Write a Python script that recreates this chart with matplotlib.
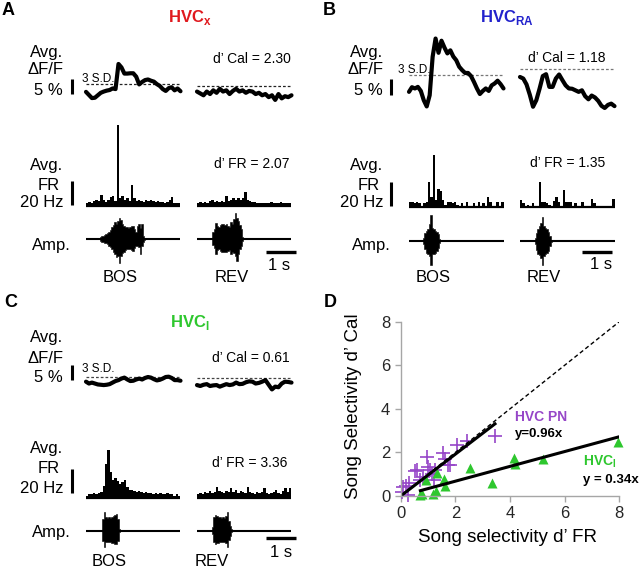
import numpy as np
import matplotlib.pyplot as plt

plt.rcParams['font.family'] = 'Liberation Sans'
plt.rcParams['mathtext.fontset'] = 'custom'
plt.rcParams['mathtext.rm'] = 'Liberation Sans'
plt.rcParams['mathtext.bf'] = 'Liberation Sans:bold'

# ---- calcium traces (avg dF/F, % relative to the BOS 3 S.D. line) ----
a_cal_bos = [-2.7, -3.7, -4.7, -4.6, -3.8, -3.0, -2.6, -2.3, -2.1, -1.6, -1.8, 6.3, 5.2, 3.2, 3.2, 3.3, 3.3,
             2.2, -0.3, 0.5, 1.1, 1.3, 0.9, 0.6, -0.2, -0.8, -1.8, -2.4, -1.5, -1.2, -2.2, -1.6, -2.5]
a_cal_rev = [-2.6, -3.2, -3.8, -2.6, -3.4, -2.2, -3.0, -1.7, -2.6, -2.2, -3.4, -2.4, -1.7, -2.6, -2.2,
             -3.0, -2.4, -2.6, -3.4, -3.0, -3.8, -3.4, -4.4, -3.8, -5.3, -3.4, -4.8, -4.1, -4.4, -3.8]
a_thr = [0.0, -0.75]

b_cal_bos = [-5.6, -4.1, -4.5, -4.0, -5.3, -8.3, -10.3, -6.7, 5.7, 11.6, 7.0, 10.9, 8.7, 6.8, 7.8, 5.8, 4.6,
             2.5, 1.4, 0.5, 0.5, -0.5, -2.4, -4.5, -6.3, -5.3, -4.5, -5.3, -3.5, -2.9, -2.0, -3.1, -4.5]
b_cal_rev = [-0.8, -1.3, -3.2, -6.5, -10.4, -8.3, -4.6, -0.5, 0.1, -4.0, -4.0, -1.3, 0.0, -1.8, -3.5,
             -4.5, -4.6, -5.1, -5.6, -5.1, -7.0, -8.0, -6.8, -7.4, -8.5, -10.1, -10.8, -9.8, -9.4, -10.2]
b_thr = [0.0, 1.9]

c_cal_bos = [-1.6, -2.2, -1.9, -2.2, -2.5, -2.6, -2.7, -2.6, -2.4, -1.9, -1.4, -1.1, -0.6, -0.3, -0.9, -1.4, -1.3,
             -0.9, -0.6, -0.9, -0.4, -0.1, -0.3, -0.8, -1.2, -1.0, -0.6, -0.1, 0.0, -0.4, -1.1, -1.1, -1.3]
c_cal_rev = [-2.7, -3.0, -2.6, -2.4, -3.0, -2.8, -2.7, -3.2, -2.8, -2.4, -2.7, -2.5, -1.9, -2.4, -2.3,
             -1.8, -1.5, -1.6, -2.2, -2.0, -1.6, -1.1, -2.6, -4.1, -3.2, -3.4, -2.2, -1.6, -1.7, -1.9]
c_thr = [0.0, -0.5]

# ---- firing rate histograms (Hz, 40 bins per stimulus) ----
a_fr_bos = [2, 3, 2, 4, 5, 4, 9, 5, 3, 5, 7, 8, 4, 67, 6, 8, 5, 6, 4, 17,
            6, 4, 5, 4, 3, 5, 4, 5, 4, 3, 4, 3, 3, 2, 3, 5, 7, 2, 2, 2]
a_fr_rev = [2, 3, 2, 3, 2, 4, 5, 3, 4, 3, 4, 3, 8, 4, 5, 6, 5, 6, 5, 6,
            11, 5, 4, 3, 3, 2, 2, 2, 2, 2, 2, 3, 2, 2, 2, 3, 2, 2, 2, 2]
b_fr_bos = [4, 4, 3, 4, 3, 1, 3, 4, 21, 8, 43, 6, 15, 13, 6, 2, 4, 4, 3, 4,
            2, 0, 3, 0, 4, 0, 0, 3, 0, 4, 0, 3, 0, 8, 4, 0, 0, 4, 0, 4]
b_fr_rev = [6, 3, 0, 2, 0, 3, 0, 0, 21, 4, 4, 3, 2, 0, 5, 8, 4, 0, 14, 4,
            4, 4, 0, 3, 0, 0, 4, 0, 0, 0, 7, 3, 0, 0, 0, 0, 0, 0, 0, 7]
c_fr_bos = [2, 3, 3, 4, 3, 4, 5, 10, 28, 40, 22, 15, 17, 14, 12, 13, 15, 9, 7, 7,
            6, 5, 6, 5, 4, 5, 4, 4, 3, 4, 3, 4, 3, 3, 4, 3, 3, 2, 3, 2]
c_fr_rev = [3, 4, 3, 5, 4, 6, 4, 5, 9, 6, 5, 4, 6, 5, 8, 5, 7, 4, 6, 5,
            4, 9, 5, 4, 3, 5, 4, 5, 8, 4, 3, 4, 5, 7, 4, 3, 6, 8, 5, 8]

# ---- song amplitude envelopes (upper / lower, 0.05 s steps) and onsets (s) ----
a_song_bos_up = [0.07, 0.11, 0.14, 0.17, 0.21, 0.25, 0.31, 0.39, 0.49, 0.58, 0.69, 0.64, 0.75, 0.86, 0.8, 0.63,
                 0.56, 0.5, 0.49, 0.47, 0.5, 0.53, 0.56, 0.42, 0.28, 0.53, 0.63, 0.44, 0.61, 0.14, 0.04]
a_song_bos_dn = [0.07, 0.11, 0.14, 0.15, 0.17, 0.22, 0.28, 0.33, 0.42, 0.53, 0.63, 0.76, 0.69, 1.0, 0.69, 0.58,
                 0.56, 0.44, 0.42, 0.42, 0.42, 0.44, 0.49, 0.39, 0.28, 0.31, 0.35, 0.63, 0.28, 0.14, 0.04]
a_song_rev_up = [0.14, 0.28, 0.42, 0.67, 0.53, 0.5, 0.58, 0.61, 0.64, 0.58, 0.64, 0.56, 0.5, 0.72, 0.64,
                 0.83, 1.08, 0.86, 0.76, 0.58, 0.42, 0.08]
a_song_rev_dn = [0.14, 0.25, 0.36, 0.64, 0.44, 0.42, 0.5, 0.53, 0.56, 0.53, 0.56, 0.5, 0.47, 0.61, 0.56,
                 0.58, 0.69, 0.9, 0.63, 0.42, 0.28, 0.08]
a_onset = [0.47, 0.49]
b_song_bos_up = [0.11, 0.35, 0.42, 0.49, 0.69, 1.08, 0.56, 0.49, 0.42, 0.39, 0.28, 0.07]
b_song_bos_dn = [0.11, 0.35, 0.49, 0.56, 0.63, 1.0, 0.56, 0.56, 0.49, 0.42, 0.31, 0.07]
b_song_rev_up = [0.11, 0.35, 0.49, 0.63, 0.76, 1.01, 0.63, 0.53, 0.49, 0.39, 0.21, 0.06]
b_song_rev_dn = [0.11, 0.39, 0.53, 0.58, 0.69, 1.0, 0.63, 0.56, 0.49, 0.42, 0.21, 0.06]
b_onset = [0.48, 0.5]
c_song_bos_up = [0.14, 0.49, 0.79, 0.56, 0.53, 0.56, 0.53, 0.58, 0.63, 0.67, 0.69, 0.49, 0.07]
c_song_bos_dn = [0.14, 0.42, 0.67, 0.49, 0.46, 0.49, 0.49, 0.53, 0.53, 0.56, 0.56, 0.42, 0.07]
c_song_rev_up = [0.14, 0.56, 0.67, 0.63, 0.58, 0.56, 0.53, 0.56, 0.53, 0.63, 0.79, 0.42, 0.21, 0.06]
c_song_rev_dn = [0.14, 0.49, 0.56, 0.53, 0.5, 0.49, 0.46, 0.49, 0.46, 0.53, 0.67, 0.39, 0.21, 0.06]
c_onset = [0.52, 0.51]

# ---- panel D: song selectivity ----
pn_x = [0.06, 0.10, 0.20, 0.25, 0.30, 0.52, 0.59, 0.71, 0.83, 0.95, 0.99, 1.07, 1.15, 1.23, 1.26,
        1.56, 1.62, 1.74, 1.80, 2.05, 2.41, 3.45]
pn_y = [0.20, 0.40, 0.45, 0.05, 0.58, 1.16, 1.19, 0.73, 0.89, 1.80, 1.35, 1.19, 1.00, 0.73, 1.19,
        1.96, 1.68, 1.42, 1.42, 2.34, 2.54, 2.75]
in_x = [0.72, 0.77, 0.92, 1.20, 1.30, 1.33, 1.60, 1.62, 2.52, 3.35, 4.15, 4.17, 5.20, 7.95]
in_y = [0.05, 0.10, 0.75, 0.10, 0.25, 1.05, 0.78, 0.45, 1.28, 0.60, 1.75, 1.45, 1.70, 2.48]
pn_slope = 0.96
in_slope = 0.34

RED, BLUE, GREEN, PURPLE = '#e0191e', '#2222cc', '#2ec72e', '#9646c8'

W, H = 640, 568
fig = plt.figure(figsize=(6.4, 5.68), dpi=100)
page = fig.add_axes([0, 0, 1, 1])
page.set_xlim(0, W)
page.set_ylim(H, 0)
page.axis('off')
page.set_zorder(10)

PX_S = 30.0    # px per second
CAL_PPU = 3.1  # px per % dF/F
FR_PPU = 1.2   # px per Hz
AMP_PPU = 24.0
DUR = 3.15
REV_T = 3.7
SONG_DT = 0.05


def row(x0, t0, yref, top, bot, ppu):
    x1 = x0 + 260
    ax = fig.add_axes([x0 / W, 1 - bot / H, (x1 - x0) / W, (bot - top) / H])
    ax.set_xlim((x0 - t0) / PX_S, (x1 - t0) / PX_S)
    ax.set_ylim((yref - bot) / ppu, (yref - top) / ppu)
    ax.axis('off')
    return ax


def panel(ox, t0, cal_ref, fr_ref, amp_ref, cal, thr, fr, song, onset, bars, thr_color):
    # calcium
    ax = row(ox + 55, t0, cal_ref, cal_ref - 60, cal_ref + 45, CAL_PPU)
    for k, vals in enumerate(cal):
        start = REV_T * k
        t = start + np.linspace(0, DUR, len(vals))
        ax.plot([start, start + DUR], [thr[k], thr[k]], color=thr_color, lw=0.9, ls=(0, (2.2, 1.6)))
        ax.plot(t, vals, color='k', lw=3, solid_joinstyle='round', solid_capstyle='round')
    bx, by = bars['cal']
    ax.plot([bx, bx], [by, by + 5], color='k', lw=2.2, solid_capstyle='butt')
    # firing rate
    ax = row(ox + 55, t0, fr_ref, fr_ref - 95, fr_ref + 3, FR_PPU)
    for k, vals in enumerate(fr):
        start = REV_T * k
        dt = DUR / len(vals)
        ax.bar(start + dt * np.arange(len(vals)), vals, width=dt, align='edge', color='k', linewidth=0)
        ax.plot([start, start + DUR], [0, 0], color='k', lw=1.6, solid_capstyle='butt')
    bx, by = bars['fr']
    ax.plot([bx, bx], [by, by + 20], color='k', lw=2.2, solid_capstyle='butt')
    # song amplitude
    ax = row(ox + 55, t0, amp_ref, amp_ref - 30, amp_ref + 30, AMP_PPU)
    for k, (up, dn) in enumerate(song):
        start = REV_T * k
        ax.plot([start, start + DUR], [0, 0], color='k', lw=1.5, solid_capstyle='butt')
        t = start + onset[k] + SONG_DT * np.arange(len(up))
        ax.fill_between(t, -np.array(dn), np.array(up), step='mid', color='k', lw=0.4)
    bx, by = bars['sec']
    ax.plot([bx, bx + 1], [by, by], color='k', lw=2.4, solid_capstyle='butt')


panel(0, 86, 83.5, 205.5, 239, [a_cal_bos, a_cal_rev], a_thr, [a_fr_bos, a_fr_rev],
      [(a_song_bos_up, a_song_bos_dn), (a_song_rev_up, a_song_rev_dn)], a_onset,
      {'cal': (-0.47, -3.4), 'fr': (-0.47, 0.2), 'sec': (6.0, -0.54)}, '#222222')
panel(320, 409, 74.5, 207, 241, [b_cal_bos, b_cal_rev], b_thr, [b_fr_bos, b_fr_rev],
      [(b_song_bos_up, b_song_bos_dn), (b_song_rev_up, b_song_rev_dn)], b_onset,
      {'cal': (-0.6, -6.6), 'fr': (-0.6, 0.5), 'sec': (5.76, -0.46)}, '#777777')
panel(0, 86, 376.7, 498, 530.7, [c_cal_bos, c_cal_rev], c_thr, [c_fr_bos, c_fr_rev],
      [(c_song_bos_up, c_song_bos_dn), (c_song_rev_up, c_song_rev_dn)], c_onset,
      {'cal': (-0.48, -1.1), 'fr': (-0.48, 4.0), 'sec': (6.0, -0.3)}, '#444444')

BIG = 12
MID = 10


def t(x, y, s, size=BIG, ha='center', **kw):
    page.text(x, y, s, fontsize=size, ha=ha, va='baseline', **kw)


# panel letters and titles
for x, y, s in [(2, 15, 'A'), (323, 15, 'B'), (4, 307, 'C'), (324, 307, 'D')]:
    t(x, y, s, size=13, ha='left', fontweight='bold')
t(190, 22, r'HVC$_{\mathbf{x}}$', fontweight='bold', color=RED)
t(507, 22, r'HVC$_{\mathbf{RA}}$', fontweight='bold', color=BLUE)
t(190, 327, r'HVC$_{\mathbf{I}}$', fontweight='bold', color=GREEN)

# row labels
for ox, row_y in [(0, [57, 74, 95, 170, 190, 207, 250]), (320, [57, 74, 95, 170, 190, 207, 250]),
                  (0, [342, 363, 382, 453, 473, 493, 537])]:
    t(ox + 47, row_y[0], 'Avg.')
    t(ox + 45, row_y[1], '\u0394F/F')
    t(ox + 48, row_y[2], '5 %')
    t(ox + 47, row_y[3], 'Avg.')
    t(ox + 49, row_y[4], 'FR')
    t(ox + 42, row_y[5], '20 Hz')
    t(ox + 51, row_y[6], 'Amp.')

t(82, 82, '3 S.D.', size=8.5, ha='left')
t(398, 73, '3 S.D.', size=8.5, ha='left')
t(82, 372, '3 S.D.', size=8.5, ha='left')
t(213, 63, 'd\u2019 Cal = 2.30', size=MID, ha='left')
t(528, 62, 'd\u2019 Cal = 1.18', size=MID, ha='left')
t(212, 362, 'd\u2019 Cal = 0.61', size=MID, ha='left')
t(214, 168, 'd\u2019 FR = 2.07', size=MID, ha='left')
t(530, 167, 'd\u2019 FR = 1.35', size=MID, ha='left')
t(212, 467, 'd\u2019 FR = 3.36', size=MID, ha='left')
t(279, 270, '1 s')
t(601, 269, '1 s')
t(281, 557, '1 s')
t(120, 282, 'BOS')
t(232, 282, 'REV')
t(433, 282, 'BOS')
t(544, 282, 'REV')
t(109, 566, 'BOS')
t(212, 566, 'REV')

# ---- panel D ----
axd = fig.add_axes([400.7 / W, 1 - 496 / H, 218.6 / W, 174.3 / H])
axd.patch.set_alpha(0)
axd.set_xlim(0, 8)
axd.set_ylim(0, 8)
for s in ['top', 'right']:
    axd.spines[s].set_visible(False)
for s in ['left', 'bottom']:
    axd.spines[s].set_color('#a6a6a6')
    axd.spines[s].set_linewidth(1)
axd.set_xticks([0, 2, 4, 6, 8])
axd.set_yticks([0, 2, 4, 6, 8])
axd.tick_params(color='#a6a6a6', labelcolor='#262626', labelsize=12, length=4, width=1)
axd.plot(pn_x, pn_y, '+', color=PURPLE, ms=10, mew=1.2, clip_on=False)
axd.plot(in_x, in_y, '^', color=GREEN, ms=6.5, mec='none', clip_on=False)
axd.plot([0, 8], [0, 8], color='k', lw=1, ls=(0, (3, 2)))
xx = np.array([0, max(pn_x)])
axd.plot(xx, pn_slope * xx, color='k', lw=2.2)
xx = np.array([min(in_x), max(in_x)])
axd.plot(xx, in_slope * xx, color='k', lw=2.2)

t(515, 421, 'HVC PN', size=10, ha='left', fontweight='bold', color=PURPLE)
t(515, 437, 'y=0.96x', size=9.5, ha='left', fontweight='bold')
t(583, 466, r'HVC$_{\mathbf{I}}$', size=10, ha='left', fontweight='bold', color=GREEN)
t(583, 483, 'y = 0.34x', size=9.5, ha='left', fontweight='bold')
page.text(353, 406, 'Song Selectivity d\u2019 Cal', fontsize=13.5, rotation=90, ha='center', va='center')
page.text(507, 537, 'Song selectivity d\u2019 FR', fontsize=13.5, ha='center', va='center')

fig.savefig('out.png', dpi=100)
